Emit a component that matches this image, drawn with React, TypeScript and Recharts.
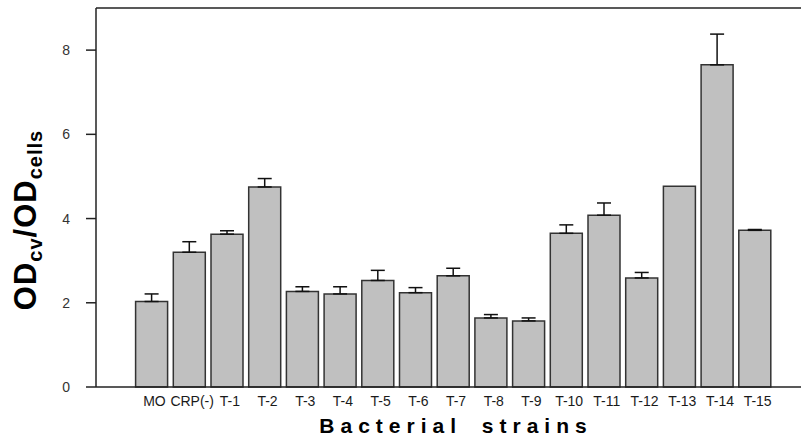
import React from 'react';
import { BarChart, Bar, XAxis, YAxis, ErrorBar, ReferenceLine } from 'recharts';

const categories = ['MO', 'CRP(-)', 'T-1', 'T-2', 'T-3', 'T-4', 'T-5', 'T-6', 'T-7', 'T-8', 'T-9', 'T-10', 'T-11', 'T-12', 'T-13', 'T-14', 'T-15'];
const means = [2.03, 3.2, 3.63, 4.75, 2.27, 2.21, 2.53, 2.24, 2.64, 1.64, 1.57, 3.65, 4.08, 2.59, 4.77, 7.65, 3.72];
const errors = [0.18, 0.25, 0.08, 0.2, 0.11, 0.17, 0.24, 0.12, 0.18, 0.08, 0.07, 0.2, 0.29, 0.13, 0, 0.73, 0.02];
const yTicks = [0, 2, 4, 6, 8];

const data = categories.map((c, i) => ({
  name: c,
  value: means[i],
  err: errors[i] > 0 ? [0, errors[i]] : undefined,
}));

const YLabel = () => (
  <text
    x={36}
    y={220}
    transform="rotate(-90, 36, 220)"
    textAnchor="middle"
    fontFamily="Liberation Sans, Arial, sans-serif"
    fontWeight="bold"
    fontSize={31}
    fill="#000"
    letterSpacing={1}
  >
    <tspan>OD</tspan>
    <tspan fontSize={20} dy={6}>cv</tspan>
    <tspan dy={-6}>/OD</tspan>
    <tspan fontSize={20} dy={6}>cells</tspan>
  </text>
);

const XLabel = () => (
  <text
    x={456}
    y={433}
    textAnchor="middle"
    fontFamily="Liberation Sans, Arial, sans-serif"
    fontWeight="bold"
    fontSize={21}
    fill="#000"
    letterSpacing={6}
    wordSpacing={8}
  >
    Bacterial strains
  </text>
);

export default function App() {
  return (
    <div style={{ position: 'absolute', left: 0, top: 0, width: 801, height: 442, background: '#fff' }}>
      <BarChart width={801} height={442} data={data} margin={{ top: 8, right: 0, bottom: 0, left: 0 }} barSize={32}>
        <XAxis
          dataKey="name"
          height={55}
          padding={{ left: 36.6, right: 27.5 }}
          tickLine={false}
          tickSize={0}
          tickMargin={9}
          axisLine={{ stroke: '#222', strokeWidth: 1.5 }}
          tick={{ fontSize: 14, fill: '#1a1a1a', fontFamily: 'Liberation Sans, Arial, sans-serif', dx: 3 }}
          interval={0}
          label={{ content: () => <XLabel /> }}
        />
        <YAxis
          width={96}
          domain={[0, 9]}
          ticks={yTicks}
          tickSize={10}
          tickMargin={16}
          tickLine={{ stroke: '#222', strokeWidth: 1.5 }}
          axisLine={{ stroke: '#222', strokeWidth: 1.5 }}
          tick={{ fontSize: 14, fill: '#333', fontFamily: 'Liberation Sans Narrow, Liberation Sans, Arial, sans-serif' }}
          label={{ content: () => <YLabel /> }}
        />
        <ReferenceLine y={9} stroke="#222" strokeWidth={1.5} />
        <Bar dataKey="value" fill="#c0c0c0" stroke="#333" strokeWidth={1.5} isAnimationActive={false}>
          <ErrorBar dataKey="err" width={7} stroke="#111" strokeWidth={1.5} direction="y" />
        </Bar>
      </BarChart>
    </div>
  );
}
